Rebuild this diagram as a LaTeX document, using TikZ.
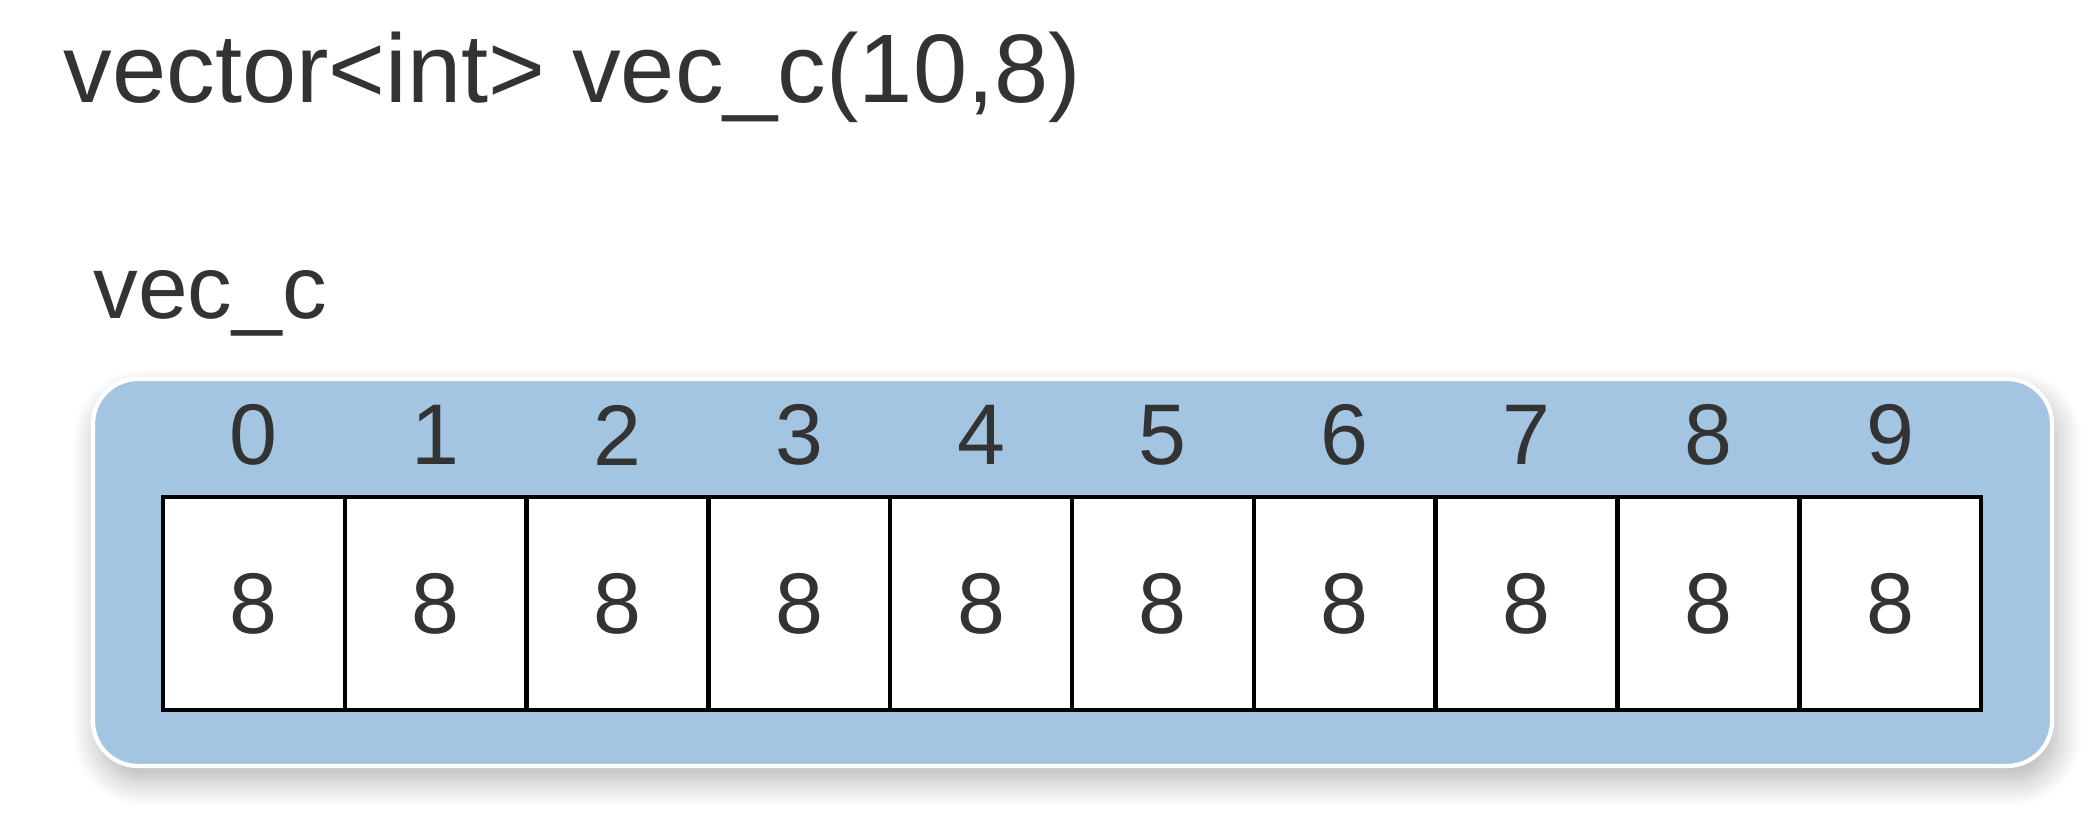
\documentclass[tikz,border=0pt]{standalone}
\usepackage{fontspec}
\setmainfont{Liberation Sans}
\usepackage{tikz}
\usetikzlibrary{shadows.blur}
\definecolor{boxblue}{RGB}{163,197,225}
\definecolor{textgray}{RGB}{51,51,51}

\tikzset{
  cell/.style={draw=black, line width=1.3pt, fill=white, minimum width=1.818cm,
    minimum height=2.13cm, inner sep=0pt, text=textgray, font=\fontsize{24.5}{28}\selectfont},
  index/.style={text=textgray, inner sep=0pt, font=\fontsize{24.5}{28}\selectfont}
}

\begin{document}
\begin{tikzpicture}
    \useasboundingbox (0,0) rectangle (20.90,-8.14);
    \node[anchor=base west, inner sep=0pt, text=textgray, font=\fontsize{27.7}{32}\selectfont]
        (title) at (0.63,-1.02) {vector<int> vec\_c(10,8)};
    \node[anchor=base west, inner sep=0pt, text=textgray, font=\fontsize{25.4}{30}\selectfont]
        (name) at (0.93,-3.18) {vec\_c};
    % the vector
    \draw[fill=boxblue, draw=white, line width=1.2pt, rounded corners=0.45cm,
          blur shadow={shadow xshift=0.5mm, shadow yshift=-1.5mm, shadow blur steps=12,
          shadow blur radius=2.5mm, shadow opacity=30}]
        (0.93,-3.79) rectangle (20.52,-7.66);
    \foreach \i in {0,...,9} {
        \node[cell] (c\i) at ({1.63+1.818*(\i+0.5)},-6.035) {8};
        \node[index] (i\i) at ({1.63+1.818*(\i+0.5)},-4.35) {\i};
    }
\end{tikzpicture}
\end{document}
